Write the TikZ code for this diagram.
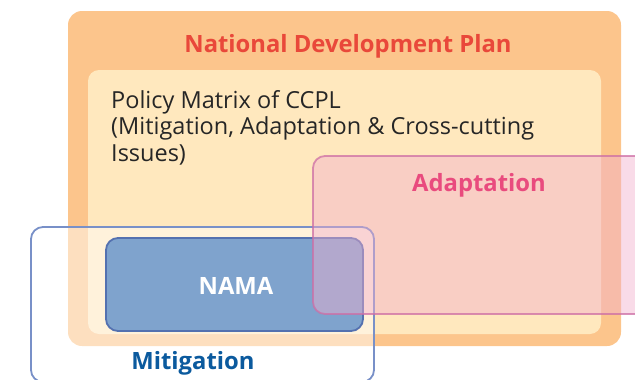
\documentclass[tikz,border=0pt]{standalone}
\usepackage{fontspec}
\setmainfont{Open Sans}
\definecolor{planfill}{RGB}{252,197,140}
\definecolor{matrixfill}{RGB}{255,232,190}
\definecolor{plantext}{RGB}{233,72,58}
\definecolor{mitline}{RGB}{120,144,200}
\definecolor{mittext}{RGB}{11,90,158}
\definecolor{namafill}{RGB}{127,163,205}
\definecolor{namaline}{RGB}{84,113,176}
\definecolor{adaptfill}{RGB}{242,175,205}
\definecolor{adaptline}{RGB}{205,110,165}
\definecolor{adapttext}{RGB}{233,75,126}
\tikzset{
  planbox/.style={fill=planfill, rounded corners=14pt},
  matrixbox/.style={fill=matrixfill, rounded corners=11pt},
  mitbox/.style={fill=white, fill opacity=0.45, draw=mitline, draw opacity=1, line width=1.8pt, rounded corners=12pt},
  namabox/.style={fill=namafill, draw=namaline, line width=1.8pt, rounded corners=12pt},
  adaptbox/.style={fill=adaptfill, fill opacity=0.45, draw=adaptline, draw opacity=0.75, line width=1.8pt, rounded corners=12pt},
  heading/.style={font=\bfseries\fontsize{23.8}{28}\selectfont, anchor=base, inner sep=0pt},
}
\begin{document}
\begin{tikzpicture}[x=1pt, y=-1pt]
\useasboundingbox (0,0) rectangle (635,380);
% nested plan regions
\path[planbox] (68,11) rectangle (621,346);
\path[matrixbox] (88,70) rectangle (601,334);
% mitigation region with NAMA inside
\path[mitbox] (31,227) rectangle (374,382);
\path[namabox] (106,238) rectangle (363,331);
% adaptation region, running off the right edge
\path[adaptbox] (313,156) rectangle (670,314);
% labels
\node[heading, text=plantext] (ndp) at (348,52) {National Development Plan};
\node[anchor=north west, inner sep=0pt, align=left,
      font=\fontsize{23.5}{26.6}\selectfont, text=black!85] (ccpl) at (111,90)
  {Policy Matrix of CCPL\\(Mitigation, Adaptation \& Cross-cutting\\Issues)};
\node[heading, text=adapttext] (adapt) at (479,191) {Adaptation};
\node[heading, text=white] (nama) at (236,294) {NAMA};
\node[heading, text=mittext] (mit) at (193,369) {Mitigation};
\end{tikzpicture}
\end{document}
